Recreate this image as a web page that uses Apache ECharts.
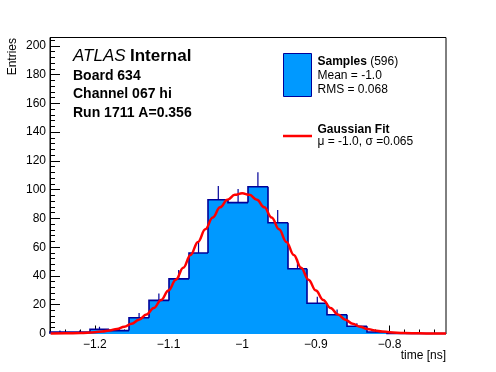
<!DOCTYPE html>
<html>
<head>
<meta charset="utf-8">
<script src="https://cdn.jsdelivr.net/npm/echarts@6/dist/echarts.min.js"></script>
<style>html,body{margin:0;padding:0;background:#fff}#c{width:496px;height:372px}</style>
</head>
<body>
<div id="c"></div>
<script>
// ---- data ----
const binEdges = [-1.2608,-1.2339,-1.2071,-1.1802,-1.1533,-1.1265,-1.0996,-1.0727,-1.0458,-1.0190,
  -0.9921,-0.9652,-0.9384,-0.9115,-0.8846,-0.8578,-0.8309,-0.8040,-0.7771,-0.7503,-0.7234];
const binCounts = [1,1,3,2,11,23,38,56,93,91,102,77,45,21,13,5,1,0,0,0];
const binErrors = [1,1,1.7,1.4,3.3,4.8,6.2,7.5,9.6,9.5,10.1,8.8,6.7,4.6,3.6,2.2,1,0,0,0];
const fitX = [-1.26,-1.24,-1.22,-1.20,-1.19,-1.18,-1.17,-1.16,-1.15,-1.14,-1.13,-1.12,-1.11,-1.10,-1.09,-1.08,-1.07,-1.06,-1.05,-1.04,-1.03,-1.02,-1.01,-1.00,
  -0.99,-0.98,-0.97,-0.96,-0.95,-0.94,-0.93,-0.92,-0.91,-0.90,-0.89,-0.88,-0.87,-0.86,-0.85,-0.84,-0.83,-0.82,-0.81,-0.80,-0.78,-0.76,-0.74,-0.7234];
const fitY = [0.0,0.1,0.3,0.9,1.4,2.1,3.2,4.7,6.8,9.6,13.2,17.7,23.3,29.9,37.4,45.7,54.6,63.7,72.5,80.7,87.7,93.0,96.4,97.5,
  96.4,93.0,87.7,80.7,72.5,63.7,54.6,45.7,37.4,29.9,23.3,17.7,13.2,9.6,6.8,4.7,3.2,2.1,1.4,0.9,0.3,0.1,0.0,0.0];
const xMajorTicks = [-1.2,-1.1,-1.0,-0.9,-0.8];
const xMinorTicks = [-1.26,-1.24,-1.22,-1.18,-1.16,-1.14,-1.12,-1.08,-1.06,-1.04,-1.02,-0.98,-0.96,-0.94,-0.92,-0.88,-0.86,-0.84,-0.82,-0.78,-0.76,-0.74];
const yMajorTicks = [0,20,40,60,80,100,120,140,160,180,200];
const yMinorTicks = [4,8,12,16,24,28,32,36,44,48,52,56,64,68,72,76,84,88,92,96,104,108,112,116,124,128,132,136,144,148,152,156,164,168,172,176,184,188,192,196,204];
const xRange = [-1.2608, -0.7234];
const yRange = [0, 205.8];

const FONT = "'Liberation Sans', Arial, Helvetica, sans-serif";
const FILL = '#0099ff';
const EDGE = '#000099';
const RED = '#ff0000';

const chart = echarts.init(document.getElementById('c'), null, {renderer: 'canvas'});

const histData = binCounts.map((v, i) => [binEdges[i], binEdges[i + 1], v, binErrors[i]]);

function renderHist(params, api) {
  const i = params.dataIndex;
  const lo = api.value(0), hi = api.value(1), v = api.value(2), e = api.value(3);
  const prev = i > 0 ? binCounts[i - 1] : 0;
  const pLo0 = api.coord([lo, 0]);
  const pHiV = api.coord([hi, v]);
  const pPrev = api.coord([lo, prev]);
  const xl = Math.round(pLo0[0]), xr = Math.round(pHiV[0]);
  const base = Math.round(pLo0[1]);
  const children = [];
  if (v > 0) {
    children.push({type: 'rect', shape: {x: xl, y: pHiV[1], width: xr - xl, height: base - pHiV[1]},
      style: {fill: FILL}, z2: 1});
  }
  const pts = [[xl, pPrev[1]], [xl, pHiV[1]], [xr, pHiV[1]]];
  if (i === binCounts.length - 1) pts.push([xr, pLo0[1]]);
  children.push({type: 'polyline', shape: {points: pts}, style: {stroke: EDGE, lineWidth: 1.6, fill: null}, z2: 2});
  if (e > 0) {
    const c = api.coord([(lo + hi) / 2, v]);
    const t = api.coord([(lo + hi) / 2, v + e]);
    children.push({type: 'line', shape: {x1: c[0], y1: c[1], x2: t[0], y2: t[1]}, style: {stroke: EDGE, lineWidth: 1.2}, z2: 3});
  }
  return {type: 'group', children};
}

const minus = s => String(s).replace('-', '\u2212');

const option = {
  animation: false,
  grid: {left: 50, right: 50, top: 37.5, bottom: 38.5, show: true, borderColor: '#000', borderWidth: 1, backgroundColor: 'transparent'},
  xAxis: [
    {type: 'value', min: xRange[0], max: xRange[1], position: 'bottom',
      axisLine: {show: true, onZero: false, lineStyle: {color: '#000', width: 1}},
      axisTick: {show: true, inside: true, length: 8, customValues: xMajorTicks, lineStyle: {color: '#000'}},
      axisLabel: {show: true, customValues: xMajorTicks, margin: 5, color: '#000', fontFamily: FONT, fontSize: 12,
        formatter: v => minus(+(+v).toFixed(1))},
      splitLine: {show: false}},
    {type: 'value', min: xRange[0], max: xRange[1], position: 'bottom', offset: 0,
      axisLine: {show: false},
      axisTick: {show: true, inside: true, length: 4, customValues: xMinorTicks, lineStyle: {color: '#000'}},
      axisLabel: {show: false}, splitLine: {show: false}}
  ],
  yAxis: [
    {type: 'value', min: yRange[0], max: yRange[1], position: 'left',
      axisLine: {show: true, lineStyle: {color: '#000', width: 1}},
      axisTick: {show: true, inside: true, length: 10, customValues: yMajorTicks, lineStyle: {color: '#000'}},
      axisLabel: {show: true, customValues: yMajorTicks, margin: 4, color: '#000', fontFamily: FONT, fontSize: 12},
      splitLine: {show: false}},
    {type: 'value', min: yRange[0], max: yRange[1], position: 'left', offset: 0,
      axisLine: {show: false},
      axisTick: {show: true, inside: true, length: 5, customValues: yMinorTicks, lineStyle: {color: '#000'}},
      axisLabel: {show: false}, splitLine: {show: false}}
  ],
  series: [
    {type: 'custom', xAxisIndex: 0, yAxisIndex: 0, renderItem: renderHist, data: histData,
      encode: {x: [0, 1], y: [2]}, clip: false, z: 2},
    {type: 'line', xAxisIndex: 0, yAxisIndex: 0, data: fitX.map((x, i) => [x, fitY[i]]),
      smooth: 0.4, smoothMonotone: 'x', showSymbol: false, symbol: 'none', clip: false,
      lineStyle: {color: RED, width: 2.5}, z: 5}
  ],
  graphic: [
    {type: 'text', left: 73, top: 48, style: {text: 'ATLAS', font: 'italic 17px ' + FONT, fill: '#000'}},
    {type: 'text', left: 130, top: 48, style: {text: 'Internal', font: 'bold 17px ' + FONT, fill: '#000'}},
    {type: 'text', x: 73, y: 76, style: {text: 'Board 634', font: 'bold 14px ' + FONT, fill: '#000', verticalAlign: 'middle'}},
    {type: 'text', x: 73, y: 94.5, style: {text: 'Channel 067 hi', font: 'bold 14px ' + FONT, fill: '#000', verticalAlign: 'middle'}},
    {type: 'text', x: 73, y: 113, style: {text: 'Run 1711 A=0.356', font: 'bold 14px ' + FONT, fill: '#000', verticalAlign: 'middle'}},

    {type: 'rect', shape: {x: 283.5, y: 53.5, width: 28, height: 43}, style: {fill: FILL, stroke: EDGE, lineWidth: 1}},
    {type: 'text', x: 317.5, y: 62, style: {text: '{b|Samples} {n|(596)}', verticalAlign: 'middle',
      rich: {b: {fontFamily: FONT, fontWeight: 'bold', fontSize: 12, fill: '#000'}, n: {fontFamily: FONT, fontSize: 12, fill: '#000'}}}},
    {type: 'text', x: 317.5, y: 75.5, style: {text: 'Mean = -1.0', font: '12px ' + FONT, fill: '#000', verticalAlign: 'middle'}},
    {type: 'text', x: 317.5, y: 90, style: {text: 'RMS = 0.068', font: '12px ' + FONT, fill: '#000', verticalAlign: 'middle'}},
    {type: 'line', shape: {x1: 283, y1: 136, x2: 312, y2: 136}, style: {stroke: RED, lineWidth: 2.5}},
    {type: 'text', x: 317.5, y: 129.5, style: {text: 'Gaussian Fit', font: 'bold 12px ' + FONT, fill: '#000', verticalAlign: 'middle'}},
    {type: 'text', x: 317.5, y: 142, style: {text: '\u03bc = -1.0, \u03c3 =0.065', font: '12px ' + FONT, fill: '#000', verticalAlign: 'middle'}},

    {type: 'text', x: 446, y: 356, style: {text: 'time [ns]', font: '12px ' + FONT, fill: '#000', align: 'right', verticalAlign: 'middle'}},
    {type: 'text', x: 12.5, y: 38, rotation: Math.PI / 2, style: {text: 'Entries', font: '12px ' + FONT, fill: '#000', align: 'right', verticalAlign: 'middle'}}
  ]
};
chart.setOption(option);
</script>
</body>
</html>
